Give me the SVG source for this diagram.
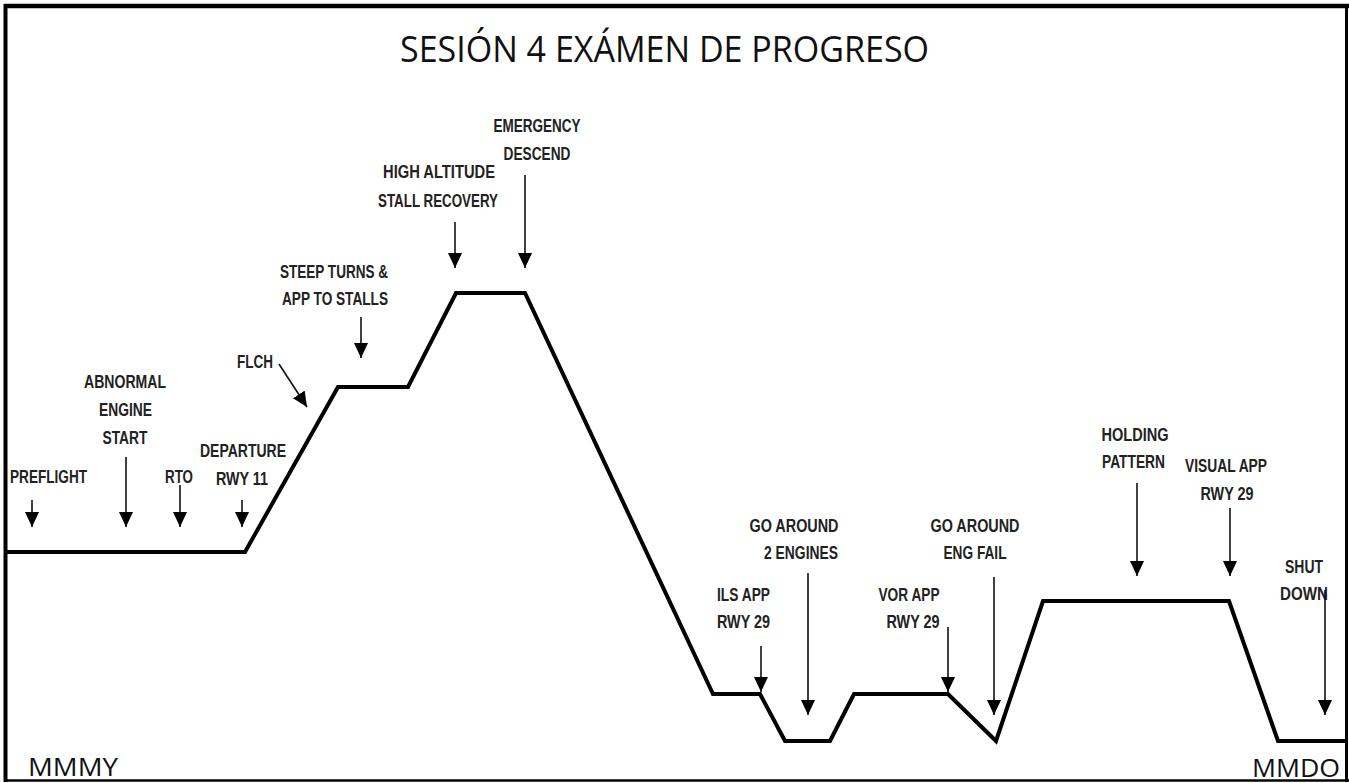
<svg xmlns="http://www.w3.org/2000/svg" width="1349" height="783" viewBox="0 0 1349 783">
  <style>
    .lbl { font-family: "Liberation Sans", Arial, sans-serif; font-weight: bold; font-size: 18px; fill: #222; text-anchor: middle; }
    .title { font-family: "Open Sans", "Liberation Sans", sans-serif; font-size: 36px; fill: #111; text-anchor: middle; }
    .apt { font-family: "Open Sans", "Liberation Sans", sans-serif; font-size: 26px; fill: #111; }
    .arr { stroke: #111; stroke-width: 1.6; fill: none; marker-end: url(#ah); }
    .prof { stroke: #000; stroke-width: 4; fill: none; stroke-linejoin: miter; }
  </style>
  <defs>
    <marker id="ah" viewBox="0 0 15 14" refX="15" refY="7" markerWidth="15" markerHeight="14" markerUnits="userSpaceOnUse" orient="auto">
      <path d="M0,0 L15,7 L0,14 z" fill="#000"/>
    </marker>
  </defs>
  <rect x="0" y="0" width="1349" height="783" fill="#fff"/>
  <g id="frame">
    <line x1="4" y1="6" x2="1349" y2="6" stroke="#000" stroke-width="4.5"/>
    <line x1="5.5" y1="4" x2="5.5" y2="782" stroke="#000" stroke-width="4"/>
    <line x1="1346.5" y1="4" x2="1346.5" y2="782" stroke="#000" stroke-width="3"/>
    <line x1="4" y1="780.5" x2="1349" y2="780.5" stroke="#000" stroke-width="2.5"/>
  </g>
  <g id="title">
    <text class="title" x="664.5" y="62" textLength="529" lengthAdjust="spacingAndGlyphs">SESIÓN 4 EXÁMEN DE PROGRESO</text>
  </g>
  <g id="profile">
    <path class="prof" d="M6,552 L245,552 L338,387 L408,387 L456,293 L525,293 L713,694 L760,694 L785,741 L830,741 L854,694 L948,694 L996,741 L1043,601 L1229,601 L1278,741 L1346,741"/>
  </g>
  <g id="mmmy"><text class="apt" x="28" y="776" textLength="90" lengthAdjust="spacingAndGlyphs">MMMY</text></g>
  <g id="mmdo"><text class="apt" x="1252" y="777" textLength="88" lengthAdjust="spacingAndGlyphs">MMDO</text></g>

  <g id="preflight"><text class="lbl" x="48.5" y="483" textLength="77" lengthAdjust="spacingAndGlyphs">PREFLIGHT</text></g>
  <g id="abnormal-engine-start">
    <text class="lbl" x="125" y="388" textLength="82" lengthAdjust="spacingAndGlyphs">ABNORMAL</text>
    <text class="lbl" x="125.5" y="416" textLength="53" lengthAdjust="spacingAndGlyphs">ENGINE</text>
    <text class="lbl" x="125" y="444" textLength="45" lengthAdjust="spacingAndGlyphs">START</text>
  </g>
  <g id="rto"><text class="lbl" x="179" y="483" textLength="28" lengthAdjust="spacingAndGlyphs">RTO</text></g>
  <g id="departure">
    <text class="lbl" x="243" y="457" textLength="86" lengthAdjust="spacingAndGlyphs">DEPARTURE</text>
    <text class="lbl" x="242" y="485" textLength="52" lengthAdjust="spacingAndGlyphs">RWY 11</text>
  </g>
  <g id="flch"><text class="lbl" x="255" y="368" textLength="36" lengthAdjust="spacingAndGlyphs">FLCH</text></g>
  <g id="steep-turns">
    <text class="lbl" x="334" y="278" textLength="108" lengthAdjust="spacingAndGlyphs">STEEP TURNS &amp;</text>
    <text class="lbl" x="335" y="305" textLength="106" lengthAdjust="spacingAndGlyphs">APP TO STALLS</text>
  </g>
  <g id="high-altitude">
    <text class="lbl" x="439" y="178" textLength="112" lengthAdjust="spacingAndGlyphs">HIGH ALTITUDE</text>
    <text class="lbl" x="438" y="207" textLength="120" lengthAdjust="spacingAndGlyphs">STALL RECOVERY</text>
  </g>
  <g id="emergency">
    <text class="lbl" x="537" y="132" textLength="87" lengthAdjust="spacingAndGlyphs">EMERGENCY</text>
    <text class="lbl" x="537" y="160" textLength="67" lengthAdjust="spacingAndGlyphs">DESCEND</text>
  </g>
  <g id="ils-app">
    <text class="lbl" x="743.5" y="601" textLength="53" lengthAdjust="spacingAndGlyphs">ILS APP</text>
    <text class="lbl" x="743.5" y="628" textLength="53" lengthAdjust="spacingAndGlyphs">RWY 29</text>
  </g>
  <g id="go-around-2">
    <text class="lbl" x="794" y="532" textLength="89" lengthAdjust="spacingAndGlyphs">GO AROUND</text>
    <text class="lbl" x="801" y="559" textLength="74" lengthAdjust="spacingAndGlyphs">2 ENGINES</text>
  </g>
  <g id="vor-app">
    <text class="lbl" x="909" y="601" textLength="61" lengthAdjust="spacingAndGlyphs">VOR APP</text>
    <text class="lbl" x="913" y="628" textLength="53" lengthAdjust="spacingAndGlyphs">RWY 29</text>
  </g>
  <g id="go-around-eng-fail">
    <text class="lbl" x="975" y="532" textLength="89" lengthAdjust="spacingAndGlyphs">GO AROUND</text>
    <text class="lbl" x="975" y="559" textLength="63" lengthAdjust="spacingAndGlyphs">ENG FAIL</text>
  </g>
  <g id="holding">
    <text class="lbl" x="1135" y="441" textLength="67" lengthAdjust="spacingAndGlyphs">HOLDING</text>
    <text class="lbl" x="1133.5" y="468" textLength="63" lengthAdjust="spacingAndGlyphs">PATTERN</text>
  </g>
  <g id="visual-app">
    <text class="lbl" x="1226" y="472" textLength="82" lengthAdjust="spacingAndGlyphs">VISUAL APP</text>
    <text class="lbl" x="1227" y="500" textLength="53" lengthAdjust="spacingAndGlyphs">RWY 29</text>
  </g>
  <g id="shut-down">
    <text class="lbl" x="1304" y="573" textLength="38" lengthAdjust="spacingAndGlyphs">SHUT</text>
    <text class="lbl" x="1304" y="600" textLength="48" lengthAdjust="spacingAndGlyphs">DOWN</text>
  </g>

  <g id="connectors">
    <line class="arr" x1="32" y1="500" x2="32" y2="527"/>
    <line class="arr" x1="126" y1="457" x2="126" y2="527"/>
    <line class="arr" x1="180" y1="485" x2="180" y2="527"/>
    <line class="arr" x1="242" y1="500" x2="242" y2="527"/>
    <line class="arr" x1="279" y1="364" x2="307" y2="407"/>
    <line class="arr" x1="361" y1="317" x2="361" y2="358"/>
    <line class="arr" x1="455" y1="222" x2="455" y2="268"/>
    <line class="arr" x1="525" y1="175" x2="525" y2="268"/>
    <line class="arr" x1="761" y1="646" x2="761" y2="692"/>
    <line class="arr" x1="808" y1="573" x2="808" y2="715"/>
    <line class="arr" x1="948" y1="627" x2="948" y2="692"/>
    <line class="arr" x1="994" y1="577" x2="994" y2="715"/>
    <line class="arr" x1="1137" y1="483" x2="1137" y2="576"/>
    <line class="arr" x1="1230" y1="508" x2="1230" y2="576"/>
    <line class="arr" x1="1325" y1="590" x2="1325" y2="715"/>
  </g>
</svg>
